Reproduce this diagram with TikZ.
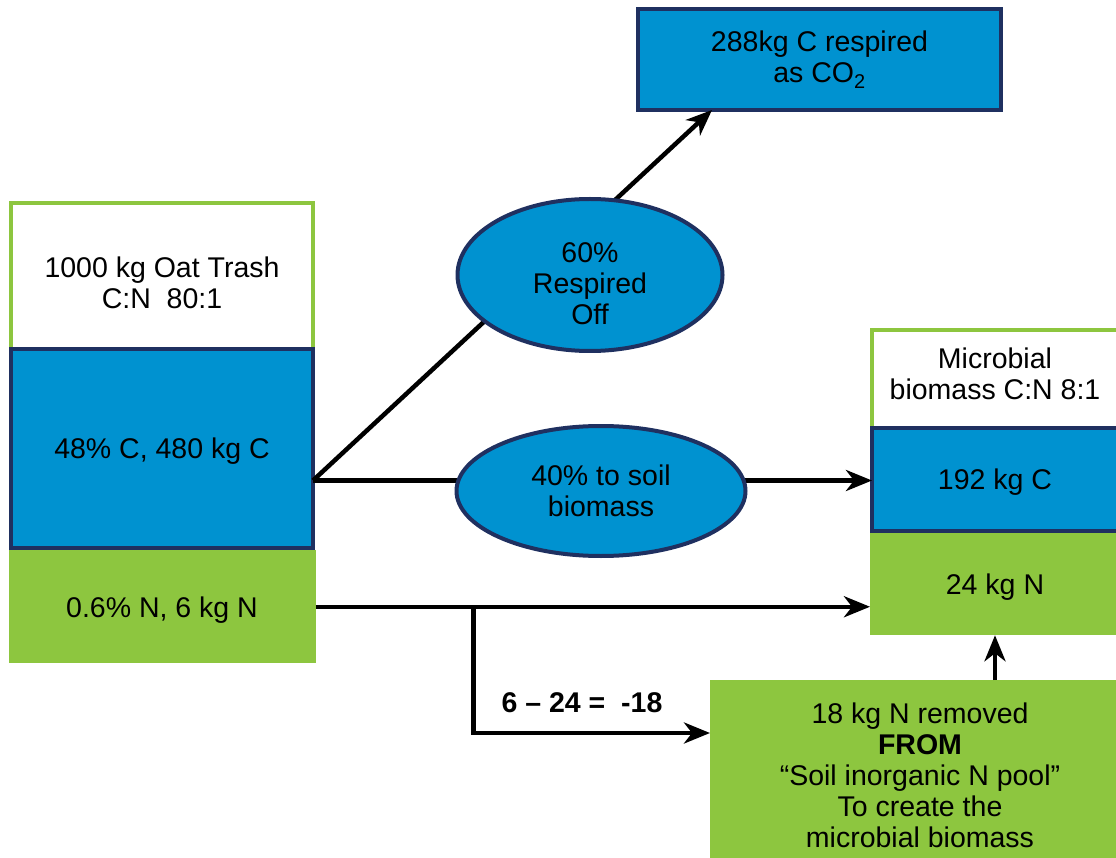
\documentclass[tikz,border=0pt]{standalone}
\usepackage{fontspec}
\setmainfont{Liberation Sans}
\usetikzlibrary{arrows.meta,positioning,shapes.geometric,calc}
\definecolor{cblue}{RGB}{0,146,208}
\definecolor{navy}{RGB}{31,48,96}
\definecolor{leaf}{RGB}{141,198,63}
\newcommand{\topgap}[1]{\rule{0pt}{#1}}
\begin{document}
\begin{tikzpicture}[
    x=1pt, y=-1pt,
    node distance=0pt,
    every node/.style={font=\fontsize{28.5}{31}\selectfont, align=center, inner sep=0pt, outer sep=0pt},
    head/.style={draw=leaf, line width=4pt, fill=white},
    cbox/.style={draw=navy, line width=4.5pt, fill=cblue},
    nbox/.style={fill=leaf},
    oval/.style={ellipse, draw=navy, line width=4pt, fill=cblue},
    drop/.style={text depth=#1},
    link/.style={-{Stealth[length=26pt,width=21pt,inset=8pt]}, line width=4.5pt}
]
\useasboundingbox (0,0) rectangle (1116,858);
% oat trash
\node[head, minimum width=302, minimum height=146, anchor=north west] (trash) at (11,203) {\topgap{35pt}1000 kg Oat Trash\\C:N\ \ 80:1};
\node[cbox, drop=-4pt, minimum width=302, minimum height=199, below=of trash] (trashC) {48\% C, 480 kg C};
\node[nbox, drop=-6pt, minimum width=307, minimum height=113, below=2.25pt of trashC] (trashN) {0.6\% N, 6 kg N};
% respired carbon
\node[cbox, minimum width=363, minimum height=101, anchor=north west] (co2) at (638,9) {288kg C respired\\as CO\textsubscript{2}};
% microbial biomass
\node[head, drop=10pt, minimum width=246, minimum height=98, anchor=north west] (micro) at (872,330) {Microbial\\biomass C:N 8:1};
\node[cbox, drop=-7pt, minimum width=246, minimum height=103, below=of micro] (microC) {192 kg C};
\node[nbox, drop=-4pt, minimum width=250, minimum height=102, below=2.25pt of microC] (microN) {24 kg N};
% soil N pool
\node[nbox, minimum width=420, minimum height=190, anchor=north west] (pool) at (710,680) {18 kg N removed\\\textbf{FROM}\\``Soil inorganic N pool''\\To create the\\microbial biomass};
\node[font=\fontsize{28.5}{31}\selectfont\bfseries] (diff) at (582,703) {6 -- 24 =\ \ -18};
% connectors
\coordinate (fork) at ($(trashC.east)+(0,32)$);
\coordinate (branch) at ($(trashN.east)+(158,0)$);
\draw[link] (fork) -- ($(co2.south west)+(74,0)$);
\draw[link] (fork) -- (fork -| microC.west);
\draw[link] (trashN.east) -- (trashN.east -| microN.west);
\draw[link] (branch) |- ($(pool.west)+(0,-42)$);
\draw[link] (pool.north -| microN.south) -- (microN.south);
% splits
\node[oval, minimum width=265, minimum height=152] (resp) at (590,275) {\topgap{37pt}60\%\\Respired\\Off};
\node[oval, minimum width=289, minimum height=130] (soil) at (601,491) {40\% to soil\\biomass};
\end{tikzpicture}
\end{document}
